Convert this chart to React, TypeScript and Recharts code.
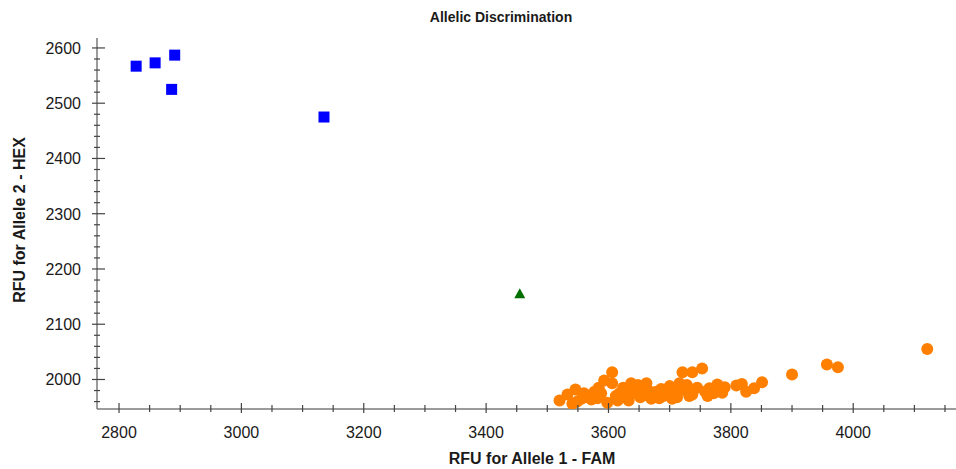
import { Scatter, ScatterChart, XAxis, YAxis } from "recharts";

const FONT = "Arial, 'Liberation Sans', Helvetica, sans-serif";
const AXIS = "#7a7a7a";
const TICK = "#444";
const TEXT = "#1a1a1a";

const X_TICKS = [
  2800, 2850, 2900, 2950, 3000, 3050, 3100, 3150, 3200, 3250, 3300, 3350, 3400, 3450,
  3500, 3550, 3600, 3650, 3700, 3750, 3800, 3850, 3900, 3950, 4000, 4050, 4100, 4150,
];
const Y_TICKS = [
  1960, 1980, 2000, 2020, 2040, 2060, 2080, 2100, 2120, 2140, 2160, 2180, 2200, 2220, 2240,
  2260, 2280, 2300, 2320, 2340, 2360, 2380, 2400, 2420, 2440, 2460, 2480, 2500, 2520, 2540,
  2560, 2580, 2600,
];

// Allele 2 (HEX) homozygotes
const hexX = [2828, 2859, 2891, 2886, 3135];
const hexY = [2567, 2573, 2587, 2525, 2475];

// heterozygote
const hetX = [3455];
const hetY = [2155];

// Allele 1 (FAM) homozygotes
const famX = [
  3520, 3533, 3546, 3541, 3549, 3556, 3564, 3572, 3577, 3584, 3588, 3593, 3598, 3606, 3606,
  3612, 3618, 3624, 3629, 3637, 3641, 3645, 3652, 3657, 3662, 3666, 3670, 3674, 3678, 3686,
  3690, 3695, 3700, 3704, 3704, 3710, 3716, 3721, 3726, 3732, 3737, 3737, 3745, 3753, 3758,
  3765, 3772, 3778, 3786, 3809, 3818, 3825, 3838, 3851, 3900, 3957, 3975, 4121,
  3560, 3582, 3615, 3633, 3648, 3660, 3683, 3697, 3712, 3728, 3762, 3790,
];
const famY = [
  1962, 1973, 1982, 1956, 1960, 1965, 1969, 1964, 1978, 1985, 1975, 1998, 1958, 2013, 1993,
  1970, 1975, 1985, 1969, 1993, 1980, 1975, 1968, 1986, 1993, 1979, 1965, 1972, 1978, 1983,
  1970, 1975, 1988, 1984, 1965, 1976, 1993, 2013, 1980, 1970, 2013, 1973, 1985, 2020, 1978,
  1984, 1975, 1991, 1976, 1989, 1992, 1978, 1984, 1995, 2009, 2027, 2022, 2055,
  1975, 1966, 1962, 1962, 1990, 1972, 1966, 1982, 1968, 1990, 1970, 1986,
];

const zip = (xs: number[], ys: number[]) => xs.map((x, i) => ({ x, y: ys[i] }));

function BottomTick({ x, y, payload }: any) {
  const v = payload.value;
  const major = v % 200 === 0;
  return (
    <g>
      <line x1={x} x2={x} y1={major ? y - 6 : y - 4} y2={major ? y + 4 : y + 3} stroke={TICK} strokeWidth={1.2} />
      {major && (
        <text x={x} y={y + 29} textAnchor="middle" fontSize={16} fontFamily={FONT} fill={TEXT}>
          {v}
        </text>
      )}
    </g>
  );
}

function TopTick({ x, y, payload }: any) {
  const major = payload.value % 200 === 0;
  return <line x1={x} x2={x} y1={y} y2={major ? y + 7 : y + 4} stroke={TICK} strokeWidth={1.2} />;
}

function LeftTick({ x, y, payload }: any) {
  const v = payload.value;
  const major = v % 100 === 0;
  return (
    <g>
      <line x1={major ? x - 5 : x - 3} x2={major ? x + 8 : x + 3} y1={y} y2={y} stroke={TICK} strokeWidth={1.2} />
      {major && (
        <text x={x - 16} y={y + 6} textAnchor="end" fontSize={16} fontFamily={FONT} fill={TEXT}>
          {v}
        </text>
      )}
    </g>
  );
}

const Square = ({ cx, cy }: any) => <rect x={cx - 5.5} y={cy - 5.5} width={11} height={11} fill="#0000ff" />;
const Dot = ({ cx, cy }: any) => <circle cx={cx} cy={cy} r={6} fill="#ff8000" />;
const Tri = ({ cx, cy }: any) => (
  <path d={`M${cx},${cy - 5.5} L${cx + 5.5},${cy + 4.5} L${cx - 5.5},${cy + 4.5} Z`} fill="#006f00" />
);

export default function App() {
  return (
    <div style={{ position: "absolute", left: 0, top: 0, width: 956, height: 469, background: "#fff", fontFamily: FONT }}>
      <ScatterChart width={956} height={469} margin={{ top: 38, right: 0, bottom: 0, left: 0 }}>
        <XAxis
          xAxisId="top"
          orientation="top"
          type="number"
          dataKey="x"
          domain={[2764, 4168]}
          allowDataOverflow
          ticks={X_TICKS}
          interval={0}
          height={0}
          tickSize={0}
          tickMargin={0}
          axisLine={{ stroke: AXIS, strokeWidth: 1.5 }}
          tickLine={false}
          tick={<TopTick />}
        />
        <XAxis
          type="number"
          dataKey="x"
          domain={[2764, 4168]}
          allowDataOverflow
          ticks={X_TICKS}
          interval={0}
          height={60}
          tickSize={0}
          tickMargin={0}
          axisLine={{ stroke: AXIS, strokeWidth: 1.5 }}
          tickLine={false}
          tick={<BottomTick />}
        />
        <YAxis
          type="number"
          dataKey="y"
          domain={[1946.6, 2618]}
          allowDataOverflow
          ticks={Y_TICKS}
          interval={0}
          width={97}
          tickSize={0}
          tickMargin={0}
          axisLine={{ stroke: AXIS, strokeWidth: 1.5 }}
          tickLine={false}
          tick={<LeftTick />}
        />
        <Scatter data={zip(famX, famY)} shape={<Dot />} isAnimationActive={false} />
        <Scatter data={zip(hexX, hexY)} shape={<Square />} isAnimationActive={false} />
        <Scatter data={zip(hetX, hetY)} shape={<Tri />} isAnimationActive={false} />
      </ScatterChart>
      <div style={{ position: "absolute", left: 0, width: 1002, top: 9, textAlign: "center", fontSize: 14, fontWeight: "bold", color: TEXT }}>
        Allelic Discrimination
      </div>
      <div style={{ position: "absolute", left: 0, width: 1064, top: 450, textAlign: "center", fontSize: 16, fontWeight: "bold", color: TEXT }}>
        RFU for Allele 1 - FAM
      </div>
      <div
        style={{
          position: "absolute",
          left: 20,
          top: 220,
          transform: "translate(-50%, -50%) rotate(-90deg)",
          whiteSpace: "nowrap",
          fontSize: 16,
          fontWeight: "bold",
          color: TEXT,
        }}
      >
        RFU for Allele 2 - HEX
      </div>
    </div>
  );
}
